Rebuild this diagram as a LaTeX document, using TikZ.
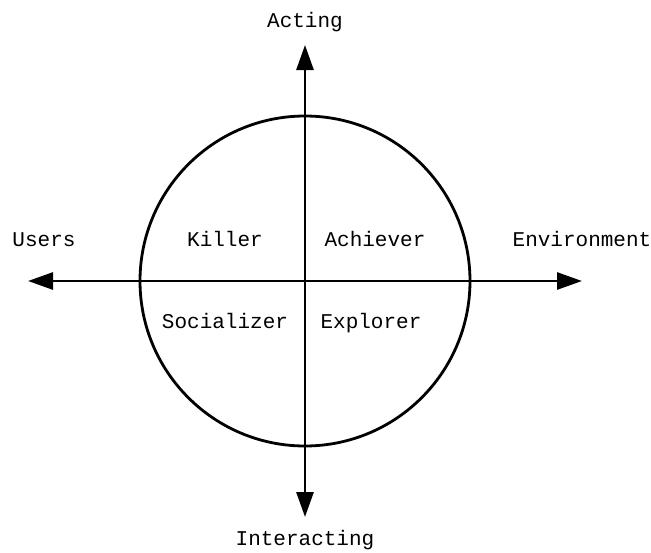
\documentclass[tikz,border=0pt]{standalone}
\usepackage{fontspec}
\setmonofont{Liberation Mono}
\usetikzlibrary{arrows.meta}
\begin{document}
\begin{tikzpicture}[x=1pt,y=-1pt,
  lbl/.style={font=\ttfamily\fontsize{21}{25}\selectfont, anchor=base, inner sep=0pt},
  axis/.style={line width=2.8pt, -{Triangle[length=25pt,width=17pt]}}]
\useasboundingbox (0,0) rectangle (651,552);
\coordinate (c) at (305,281);
\coordinate (top) at (305,45);
\coordinate (bot) at (305,517);
\coordinate (left) at (28,281);
\coordinate (right) at (582,281);
\draw[line width=2.8pt] (c) circle[radius=165];
\draw[axis] (c) -- (top);
\draw[axis] (c) -- (bot);
\draw[axis] (c) -- (left);
\draw[axis] (c) -- (right);
\node[lbl] (acting) at (305,27) {Acting};
\node[lbl] (interacting) at (305,545) {Interacting};
\node[lbl] (users) at (44,246) {Users};
\node[lbl] (env) at (582,246) {Environment};
\node[lbl] (killer) at (225,246) {Killer};
\node[lbl] (achiever) at (375,246) {Achiever};
\node[lbl] (social) at (225,328) {Socializer};
\node[lbl] (explorer) at (371,328) {Explorer};
\end{tikzpicture}
\end{document}
